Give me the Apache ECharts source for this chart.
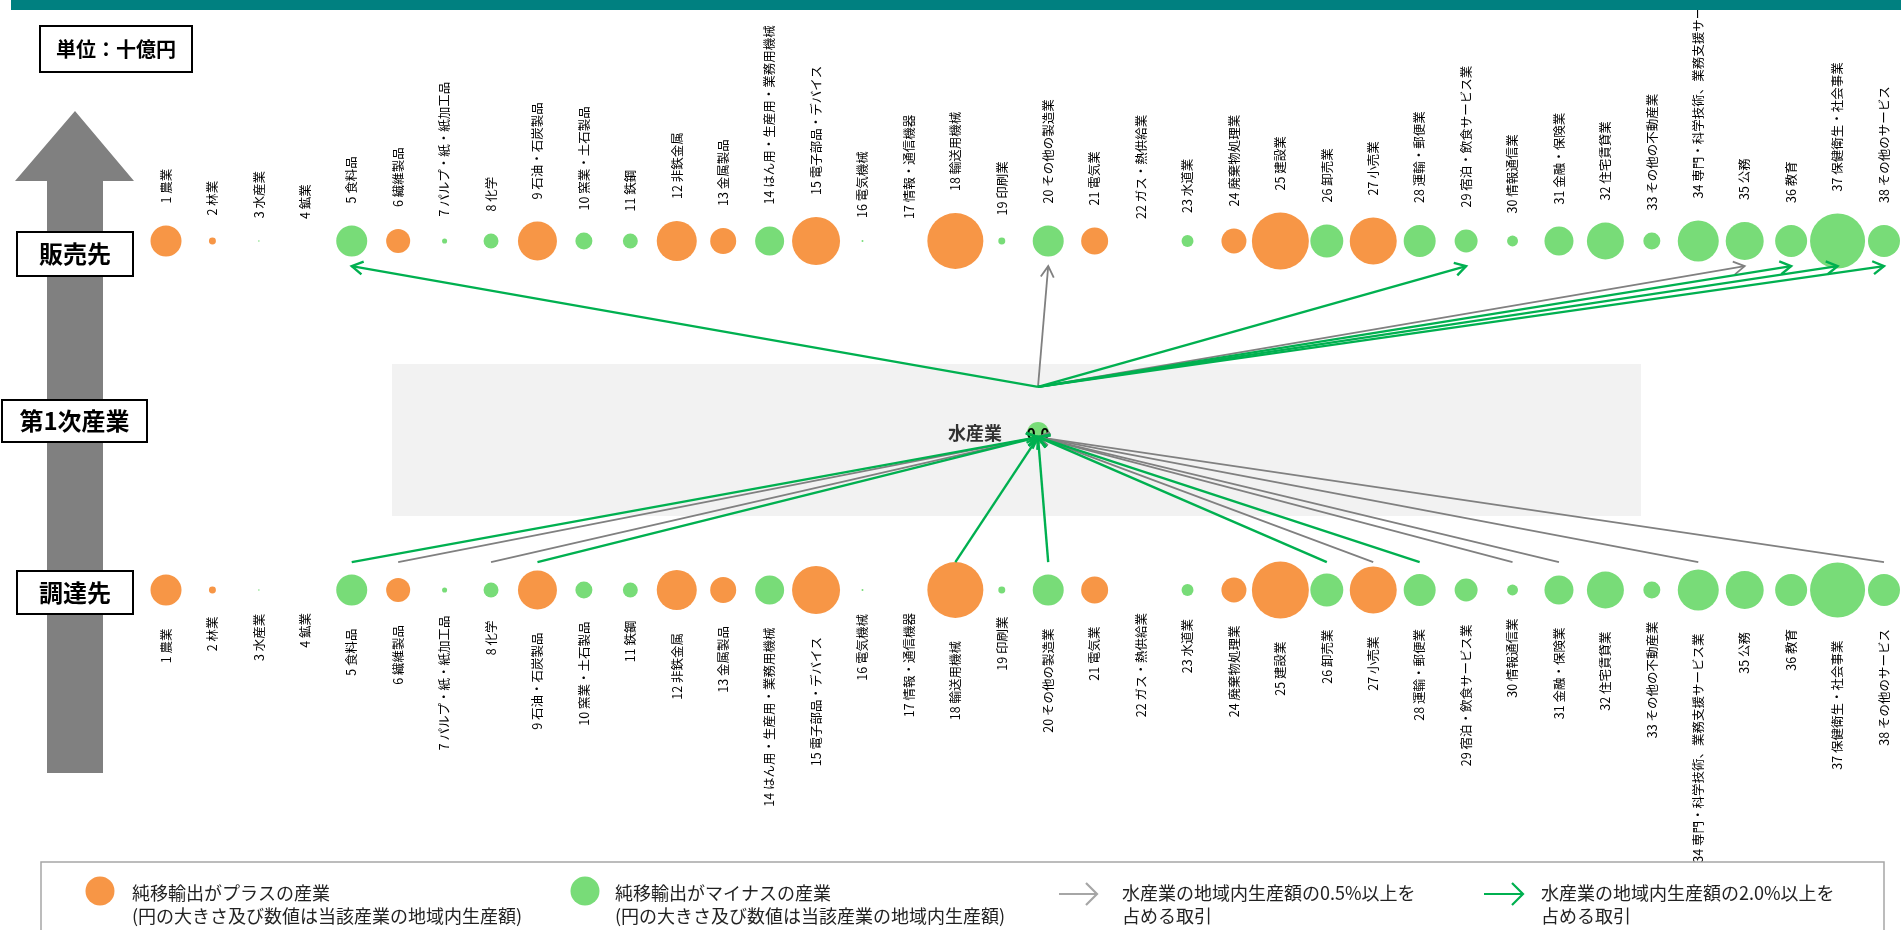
<!DOCTYPE html>
<html>
<head>
<meta charset="utf-8">
<title>水産業の取引構造</title>
<script src="https://cdn.jsdelivr.net/npm/echarts@6/dist/echarts.min.js"></script>
<style>
html, body { margin: 0; padding: 0; background: #fff; }
#chart { width: 1901px; height: 930px; }
</style>
</head>
<body>
<div id="chart"></div>
<script>
// 38部門の産業名
const industries = [
  '農業', '林業', '水産業', '鉱業', '食料品', '繊維製品', 'パルプ・紙・紙加工品', '化学',
  '石油・石炭製品', '窯業・土石製品', '鉄鋼', '非鉄金属', '金属製品', 'はん用・生産用・業務用機械',
  '電子部品・デバイス', '電気機械', '情報・通信機器', '輸送用機械', '印刷業', 'その他の製造業',
  '電気業', 'ガス・熱供給業', '水道業', '廃棄物処理業', '建設業', '卸売業', '小売業',
  '運輸・郵便業', '宿泊・飲食サービス業', '情報通信業', '金融・保険業', '住宅賃貸業',
  'その他の不動産業', '専門・科学技術、業務支援サービス業', '公務', '教育', '保健衛生・社会事業',
  'その他のサービス'
];
// 地域内生産額（十億円）円の大きさから読み取った概算
const production = [
  297, 15, 0.7, 0, 297, 178, 8, 69, 469, 89, 69, 494, 209, 260, 711, 1.2, 0, 968, 15,
  297, 225, 0, 44, 193, 1003, 336, 682, 316, 163, 37, 260, 423, 89, 519, 446, 316, 934, 316
];
// 純移輸出の符号（1: プラス, -1: マイナス）
const netExportSign = [
  1, 1, -1, -1, -1, 1, -1, -1, 1, -1, -1, 1, 1, -1, 1, -1, -1, 1, -1,
  -1, 1, -1, -1, 1, 1, -1, 1, -1, -1, -1, -1, -1, -1, -1, -1, -1, -1, -1
];
// 販売先（水産業 → 産業番号）
const salesOver2 = [5, 29, 36, 37, 38];
const salesOver05 = [20, 35];
// 調達先（産業番号 → 水産業）
const procureOver2 = [5, 9, 18, 20, 26, 28];
const procureOver05 = [6, 8, 27, 30, 31, 34, 38];
// 中心の産業
const centerName = '水産業';
const centerValue = 0.0;

const ORANGE = '#f79646';
const LGREEN = '#78dc78';
const GREEN = '#00b050';
const GRAY = '#808080';
const FONT = '"Noto Sans CJK JP", "Noto Sans", sans-serif';

// 行の位置（y軸: 調達先=0, 販売先=1）
const HUB_X = 19.78, HUB_Y = 0.45;
const OUT_FROM_Y = 0.582, OUT_TO_Y = 0.928;
const IN_FROM_Y = 0.08, IN_TO_Y = 0.438;

const sizeOf = v => 1.8 * Math.sqrt(v);

const rowData = (y) => industries.map((n, i) => ({
  value: [i + 1, y, production[i]],
  name: (i + 1) + ' ' + n,
  itemStyle: { color: netExportSign[i] > 0 ? ORANGE : LGREEN, opacity: 1 }
}));

let arrows = [];
salesOver05.forEach(i => arrows.push([HUB_X, OUT_FROM_Y, i, OUT_TO_Y, 0]));
procureOver05.forEach(i => arrows.push([i, IN_FROM_Y, HUB_X, IN_TO_Y, 0]));
salesOver2.forEach(i => arrows.push([HUB_X, OUT_FROM_Y, i, OUT_TO_Y, 1]));
procureOver2.forEach(i => arrows.push([i, IN_FROM_Y, HUB_X, IN_TO_Y, 1]));

function renderArrow(params, api) {
  const a = api.coord([api.value(0), api.value(1)]);
  const b = api.coord([api.value(2), api.value(3)]);
  const strong = api.value(4) === 1;
  const color = strong ? GREEN : GRAY;
  const w = strong ? 2.4 : 1.8;
  const dx = b[0] - a[0], dy = b[1] - a[1];
  const len = Math.hypot(dx, dy);
  const ux = dx / len, uy = dy / len;
  const L = 11, H = 6.5;
  const p1 = [b[0] - ux * L - uy * H, b[1] - uy * L + ux * H];
  const p2 = [b[0] - ux * L + uy * H, b[1] - uy * L - ux * H];
  return {
    type: 'group',
    children: [
      { type: 'line', shape: { x1: a[0], y1: a[1], x2: b[0], y2: b[1] }, style: { stroke: color, lineWidth: w } },
      { type: 'polyline', shape: { points: [p1, b, p2] }, style: { stroke: color, lineWidth: w, fill: null } }
    ]
  };
}

function box(x, y, w, h, text, size) {
  return {
    type: 'group', z: 10,
    children: [
      { type: 'rect', z: 10, shape: { x: x, y: y, width: w, height: h }, style: { fill: '#fff', stroke: '#000', lineWidth: 2 } },
      { type: 'text', z: 11, x: x + w / 2, y: y + h / 2,
        style: { text: text, font: 'bold ' + size + 'px ' + FONT, fill: '#000',
                 align: 'center', verticalAlign: 'middle', textAlign: 'center', textVerticalAlign: 'middle' } }
    ]
  };
}

function legendText(x, text) {
  return { type: 'text', z: 10, x: x, y: 882,
    style: { text: text, font: '18px ' + FONT, fill: '#222', lineHeight: 23,
             align: 'left', verticalAlign: 'top', textAlign: 'left', textVerticalAlign: 'top' } };
}

function legendArrow(x1, x2, color) {
  return {
    type: 'group', z: 10,
    children: [
      { type: 'line', z: 10, shape: { x1: x1, y1: 894, x2: x2, y2: 894 }, style: { stroke: color, lineWidth: 2.2 } },
      { type: 'polyline', z: 10, shape: { points: [[x2 - 11, 883], [x2, 894], [x2 - 11, 905]] }, style: { stroke: color, lineWidth: 2.2, fill: null } }
    ]
  };
}

const chart = echarts.init(document.getElementById('chart'));
chart.setOption({
  animation: false,
  backgroundColor: '#fff',
  grid: { left: 166, right: 17, top: 241, bottom: 340 },
  xAxis: { type: 'value', min: 1, max: 38, show: false },
  yAxis: { type: 'value', min: 0, max: 1, show: false },
  graphic: [
    { type: 'rect', z: 0, shape: { x: 392, y: 364, width: 1249, height: 152 }, style: { fill: '#f2f2f2' } },
    { type: 'polygon', z: 0, shape: { points: [[75, 111], [134, 181], [103, 181], [103, 773], [47, 773], [47, 181], [15, 181]] }, style: { fill: GRAY } },
    box(40, 26, 152, 46, '単位：十億円', 20),
    box(17, 232, 116, 44, '販売先', 24),
    box(2, 400, 145, 42, '第1次産業', 24),
    box(17, 571, 116, 43, '調達先', 24),
    { type: 'rect', z: 100, shape: { x: 11, y: 0, width: 1890, height: 10 }, style: { fill: '#008080' } },
    { type: 'rect', z: 5, shape: { x: 41, y: 862, width: 1843, height: 120 }, style: { fill: '#fff', stroke: '#a6a6a6', lineWidth: 1.5 } },
    { type: 'circle', z: 10, shape: { cx: 100, cy: 891, r: 14.5 }, style: { fill: ORANGE } },
    legendText(132, '純移輸出がプラスの産業\n(円の大きさ及び数値は当該産業の地域内生産額)'),
    { type: 'circle', z: 10, shape: { cx: 585, cy: 891, r: 14.5 }, style: { fill: LGREEN } },
    legendText(615, '純移輸出がマイナスの産業\n(円の大きさ及び数値は当該産業の地域内生産額)'),
    legendArrow(1059, 1097, '#a6a6a6'),
    legendText(1122, '水産業の地域内生産額の0.5%以上を\n占める取引'),
    legendArrow(1484, 1523, GREEN),
    legendText(1541, '水産業の地域内生産額の2.0%以上を\n占める取引')
  ],
  series: [
    {
      name: '販売先', type: 'scatter', silent: true,
      data: rowData(1),
      symbolSize: v => sizeOf(v[2]),
      label: { show: true, position: 'top', distance: 22, rotate: 90, align: 'left', verticalAlign: 'middle',
               formatter: '{b}', fontSize: 12.5, fontFamily: FONT, color: '#000' }
    },
    {
      name: '調達先', type: 'scatter', silent: true,
      data: rowData(0),
      symbolSize: v => sizeOf(v[2]),
      label: { show: true, position: 'bottom', distance: 23, rotate: 90, align: 'right', verticalAlign: 'middle',
               formatter: '{b}', fontSize: 12.5, fontFamily: FONT, color: '#000' }
    },
    {
      name: centerName, type: 'scatter', silent: true,
      data: [[HUB_X, HUB_Y, centerValue]],
      symbolSize: 22,
      itemStyle: { color: LGREEN, opacity: 1 },
      label: { show: true, position: 'inside', formatter: p => p.value[2].toFixed(1),
               fontSize: 15, fontWeight: 'bold', fontFamily: FONT, color: '#000' }
    },
    {
      name: centerName + 'ラベル', type: 'scatter', silent: true,
      data: [[HUB_X, HUB_Y]],
      symbolSize: 0,
      label: { show: true, position: 'left', distance: 36, formatter: centerName,
               fontSize: 18, fontWeight: 'bold', fontFamily: FONT, color: '#000' }
    },
    {
      name: '取引', type: 'custom', silent: true, z: 5,
      coordinateSystem: 'cartesian2d',
      encode: { x: [0, 2], y: [1, 3] },
      renderItem: renderArrow,
      data: arrows
    }
  ]
});
</script>
</body>
</html>
